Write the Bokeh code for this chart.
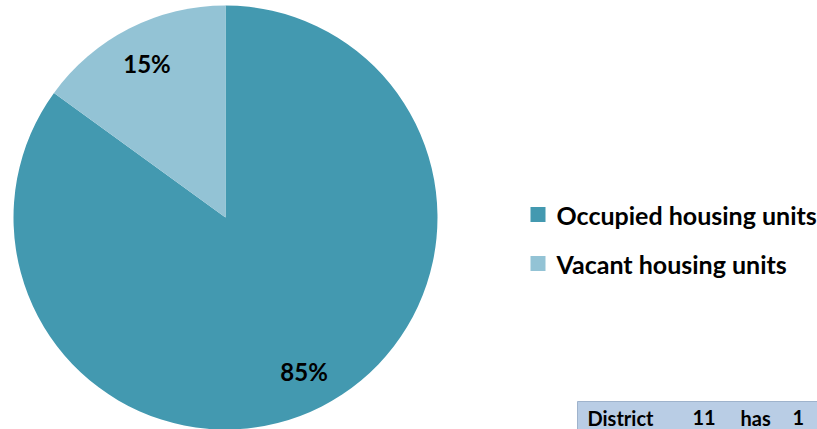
import math
from bokeh.plotting import figure
from bokeh.models import Range1d, ColumnDataSource
from bokeh.core.properties import value
from bokeh.embed import file_html
from bokeh.resources import INLINE

categories = ["Occupied housing units", "Vacant housing units"]
shares = [85, 15]
labels = ["85%", "15%"]
colors = ["#4399B0", "#93C3D5"]
note_words = ["District", "11", "has", "1"]

W, H = 817, 429
p = figure(width=W, height=H, output_backend="svg", toolbar_location=None,
           x_range=Range1d(0, W), y_range=Range1d(0, H), min_border=0)
p.axis.visible = False
p.grid.visible = False
p.outline_line_color = None
p.background_fill_color = "white"
p.border_fill_color = "white"

cx, cy, R = 225, 212, 212
total = sum(shares)
vac_frac = shares[1] / total
occ_frac = shares[0] / total
v_start = math.pi / 2
v_end = v_start + vac_frac * 2 * math.pi
o_start = v_end
o_end = o_start + occ_frac * 2 * math.pi
starts = [o_start, v_start]
ends = [o_end, v_end]
mids = [(s + e) / 2 for s, e in zip(starts, ends)]

src = ColumnDataSource(dict(start=starts, end=ends, color=colors))
p.wedge(x=cx, y=cy, radius=R, start_angle="start", end_angle="end",
        fill_color="color", line_color=None, source=src)

lr = 173
lx = [cx + lr * math.cos(m) for m in mids]
ly = [cy + lr * math.sin(m) for m in mids]
p.text(x=lx, y=ly, text=labels, text_align="center", text_baseline="middle",
       text_font=value("Lato"), text_font_style="bold", text_font_size="24px",
       text_color="black")

# legend
leg_y = [H - 214, H - 263]
p.rect(x=[537.5] * 2, y=leg_y, width=15, height=15, fill_color=colors, line_color=None)
p.text(x=[556] * 2, y=leg_y, text=categories, text_align="left", text_baseline="middle",
       text_font=value("Lato"), text_font_style="bold", text_font_size="25px",
       text_color="black")

# note box
p.quad(left=[577], right=[830], top=[H - 401], bottom=[-20],
       fill_color="#B9CDE5", line_color="#9FB3CC", line_width=1)
word_x = [587, 692, 740, 792]
p.text(x=word_x, y=[12] * 4, text=note_words, text_align="left",
       text_baseline="alphabetic",
       text_font=value("Lato"), text_font_style="bold", text_font_size="20px",
       text_color="black")

open("out.html", "w").write(file_html(p, INLINE))
